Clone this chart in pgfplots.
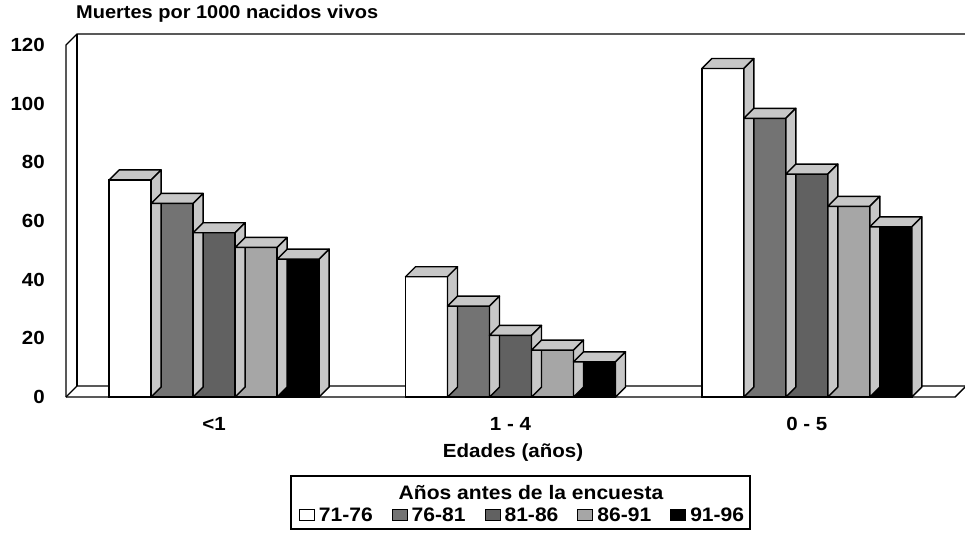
\documentclass[border=0pt]{standalone}
\usepackage{pgfplots}
\pgfplotsset{compat=1.18}
\usepackage{pgfplotstable}
\usepackage{fontspec}
\setmainfont{Liberation Sans}[FakeStretch=1.08]
\pgfdeclareplotmark{empty}{}
\colorlet{sidecol}{black!22}
\colorlet{cB}{black!55}
\colorlet{cC}{black!62}
\colorlet{cD}{black!35}

\pgfplotstableread{
x a b c d e
0 74 66 56 51 47
1 41 31 21 16 12
2 112 95 76 65 58
}\data

\pgfplotsset{
  front/.style={ybar, bar width=42bp, bar shift=#1, draw=black, line width=1.4bp,
     legend image code/.code={\draw[##1, line width=1bp] (0bp,-5.5bp) rectangle (15bp,5.5bp);}},
  faces/.style 2 args={scatter, only marks, mark=empty, forget plot,
     visualization depends on={\thisrow{#1}\as\hv},
     scatter/@pre marker code/.code={%
        \pgfmathsetmacro\hh{\hv*2.933333}%
        \path[draw=black, line width=1.4bp, fill=sidecol, line join=round]
          (#2,0pt) -- ++(-42bp,0pt) -- ++(10bp,10bp) -- ++(42bp,0pt) -- cycle;
        \path[draw=black, line width=1.4bp, fill=sidecol, line join=round]
          (#2,0pt) -- ++(10bp,10bp) -- ++(0pt,{-\hh*1bp}) -- ++(-10bp,-10bp) -- cycle;
     },
     scatter/@post marker code/.code={}},
}

\begin{document}
\bfseries
\begin{tikzpicture}
\useasboundingbox (0,0) rectangle (965bp,-537bp);
\begin{axis}[
  at={(66bp,-397bp)}, anchor=south west,
  scale only axis, width=889bp, height=352bp,
  xmin=-0.5, xmax=2.5, ymin=0, ymax=120,
  clip=false,
  axis line style={draw=none},
  tick style={draw=none},
  major tick length=0pt,
  xtick={0,1,2}, xticklabels={<1, 1 - 4, 0 - 5},
  ytick={0,20,...,120},
  /pgf/number format/assume math mode=true,
  yticklabel style={font=\fontsize{19bp}{21bp}\selectfont\bfseries, inner sep=0pt, anchor=east, xshift=-21bp},
  xticklabel style={font=\fontsize{19bp}{21bp}\selectfont\bfseries, inner sep=0pt, anchor=north, yshift=-20bp},
  legend columns=5,
  legend cell align=left,
  legend style={at={(0.5135,-0.3352)}, anchor=center, draw=none, fill=none,
     font=\fontsize{19.5bp}{21bp}\selectfont\bfseries, inner sep=0pt,
     /tikz/every odd column/.append style={column sep=2bp},
     /tikz/every even column/.append style={column sep=17bp}},
]
% frame (back wall and floor)
\draw[line width=1.4bp] (axis cs:-0.5,0) -- (axis cs:-0.5,120) -- ++(11bp,11bp)
   -- ([xshift=11bp,yshift=11bp]axis cs:2.5,120);
\draw[line width=1.4bp] ([xshift=11bp,yshift=11bp]axis cs:-0.5,0) -- ([xshift=11bp,yshift=11bp]axis cs:-0.5,120);
\draw[line width=1.4bp] (axis cs:-0.5,0) -- ++(11bp,11bp) -- ([xshift=11bp,yshift=11bp]axis cs:2.5,0);
\draw[line width=1.4bp] (axis cs:-0.5,0) -- (axis cs:2.5,0) -- ++(11bp,11bp);

\addplot[front=-84bp, fill=white] table[x=x,y=a]{\data};
\addlegendentry{71-76}
\addplot[faces={a}{-63bp}] table[x=x,y=a]{\data};
\addplot[front=-42bp, fill=cB] table[x=x,y=b]{\data};
\addlegendentry{76-81}
\addplot[faces={b}{-21bp}] table[x=x,y=b]{\data};
\addplot[front=0bp, fill=cC] table[x=x,y=c]{\data};
\addlegendentry{81-86}
\addplot[faces={c}{21bp}] table[x=x,y=c]{\data};
\addplot[front=42bp, fill=cD] table[x=x,y=d]{\data};
\addlegendentry{86-91}
\addplot[faces={d}{63bp}] table[x=x,y=d]{\data};
\addplot[front=84bp, fill=black] table[x=x,y=e]{\data};
\addlegendentry{91-96}
\addplot[faces={e}{105bp}] table[x=x,y=e]{\data};
\end{axis}
\node[anchor=west, inner sep=0pt, font=\fontsize{18.5bp}{20bp}\selectfont\bfseries] at (76bp,-14bp) {Muertes por 1000 nacidos vivos};
\node[inner sep=0pt, font=\fontsize{19bp}{21bp}\selectfont\bfseries] at (513bp,-453bp) {Edades (años)};
\draw[line width=1.4bp] (291bp,-476bp) rectangle (750bp,-529bp);
\node[inner sep=0pt, font=\fontsize{19.5bp}{21bp}\selectfont\bfseries] at (531bp,-493bp) {Años antes de la encuesta};
\end{tikzpicture}
\end{document}
